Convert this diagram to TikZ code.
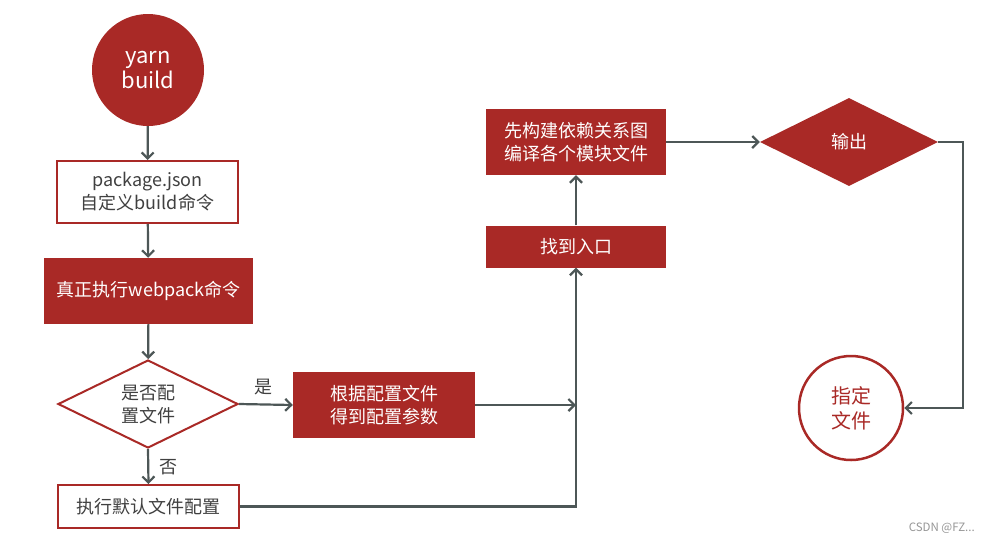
\documentclass[tikz,border=0pt]{standalone}
\usepackage{fontspec}
\setmainfont{Noto Sans CJK SC}
\usetikzlibrary{arrows.meta,shapes.geometric,calc}
\definecolor{myred}{RGB}{169,41,38}
\definecolor{lin}{RGB}{77,87,87}
\definecolor{txt}{RGB}{64,64,64}
\definecolor{wm}{RGB}{150,150,150}
\tikzset{
  every node/.style={inner sep=0pt, align=center, font=\fontsize{18pt}{23pt}\selectfont},
  redbox/.style={rectangle, fill=myred, text=white},
  whitebox/.style={rectangle, draw=myred, line width=2pt, fill=white, text=txt},
  conn/.style={draw=lin, line width=2.2pt, -{Straight Barb[length=6pt,width=12pt]}},
  lbl/.style={text=txt, font=\fontsize{18pt}{20pt}\selectfont}
}
\begin{document}
\begin{tikzpicture}[x=1pt,y=-1pt]
\useasboundingbox[fill=white] (0,0) rectangle (990,542);
% nodes
\node[circle, fill=myred, text=white, minimum size=112pt,
      font=\fontsize{22pt}{25pt}\selectfont] (yarn) at (148,70) {yarn\\build};
\node[whitebox, minimum width=181pt, minimum height=62pt] (pkg) at (147.5,192) {package.json\\自定义build命令};
\node[redbox, minimum width=209pt, minimum height=66pt] (wp) at (148.5,291) {真正执行webpack命令};
\node[diamond, aspect=2.045, draw=myred, line width=2pt, fill=white, text=txt,
      minimum width=180pt, minimum height=88pt] (cfg) at (148,404) {是否配\\置文件};
\node[redbox, minimum width=182pt, minimum height=66pt] (gen) at (384,405) {根据配置文件\\得到配置参数};
\node[whitebox, minimum width=181pt, minimum height=43pt] (def) at (148.5,506.5) {执行默认文件配置};
\node[redbox, minimum width=180pt, minimum height=42pt] (entry) at (576,246.5) {找到入口};
\node[redbox, minimum width=180pt, minimum height=66pt] (build) at (576,142) {先构建依赖关系图\\编译各个模块文件};
\node[diamond, aspect=2.02, fill=myred, text=white,
      minimum width=178pt, minimum height=88pt] (out) at (849,142) {输出};
\node[circle, draw=myred, line width=2.5pt, fill=white, text=myred, minimum size=104pt,
      font=\fontsize{20pt}{25pt}\selectfont] (file) at (851,408) {指定\\文件};
\node[lbl] (yes) at (263,387) {是};
\node[lbl] (no) at (168,467) {否};
\node[text=wm, anchor=east, font=\fontsize{11.5pt}{13pt}\selectfont] (csdn) at (975,528) {CSDN @FZ...};
\coordinate (join) at (entry.south |- gen.east);
\coordinate (rturn) at ($(out.east)+(25,0)$);
% connectors
\draw[conn] (yarn) -- (pkg);
\draw[conn] (pkg) -- (wp);
\draw[conn] (wp) -- (cfg);
\draw[conn] (cfg.east) -- (gen.west);
\draw[conn] (cfg.south) -- (def.north);
\draw[conn] (gen.east) -- (join);
\draw[conn] (def.east) -| (entry.south);
\draw[conn] (entry) -- (build);
\draw[conn] (build.east) -- (out.west);
\draw[conn] (out.east) -- (rturn) |- (file.east);
\end{tikzpicture}
\end{document}
